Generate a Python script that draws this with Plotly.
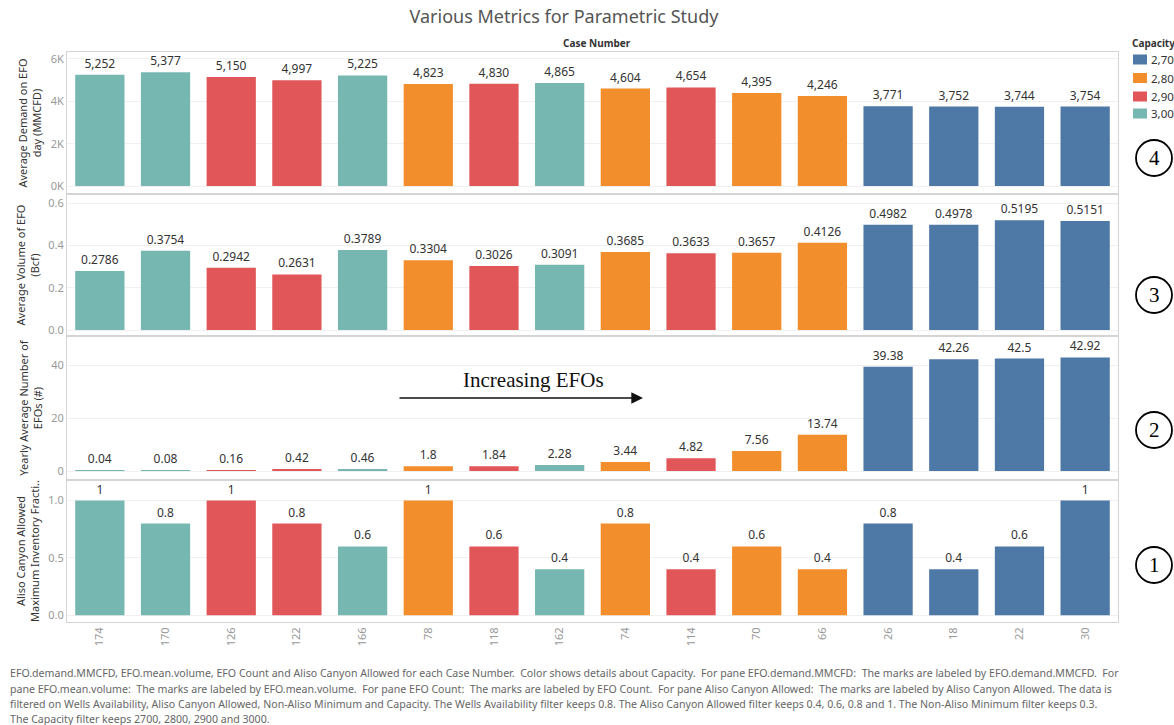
import plotly.graph_objects as go

cases = ["174", "170", "126", "122", "166", "78", "118", "162", "74", "114", "70", "66", "26", "18", "22", "30"]
capacity = [3000, 3000, 2900, 2900, 3000, 2800, 2900, 3000, 2800, 2900, 2800, 2800, 2700, 2700, 2700, 2700]
demand = [5252, 5377, 5150, 4997, 5225, 4823, 4830, 4865, 4604, 4654, 4395, 4246, 3771, 3752, 3744, 3754]
volume = [0.2786, 0.3754, 0.2942, 0.2631, 0.3789, 0.3304, 0.3026, 0.3091, 0.3685, 0.3633, 0.3657, 0.4126,
          0.4982, 0.4978, 0.5195, 0.5151]
efo_count = [0.04, 0.08, 0.16, 0.42, 0.46, 1.8, 1.84, 2.28, 3.44, 4.82, 7.56, 13.74, 39.38, 42.26, 42.5, 42.92]
aliso = [1, 0.8, 1, 0.8, 0.6, 1, 0.6, 0.4, 0.8, 0.4, 0.6, 0.4, 0.8, 0.4, 0.6, 1]

cap_levels = [2700, 2800, 2900, 3000]
cap_labels = ["2,700", "2,800", "2,900", "3,000"]
cap_colors = {2700: "#4E79A7", 2800: "#F28E2B", 2900: "#E15759", 3000: "#76B7B2"}

row_titles = ["Average Demand on EFO<br>day (MMCFD)",
              "Average Volume of EFO<br>(Bcf)",
              "Yearly Average Number of<br>EFOs (#)",
              "Aliso Canyon Allowed<br>Maximum Inventory Fracti.."]

W, H = 1174, 725
ml, mr, mt, mb = 67, 56, 52, 103
pw = W - ml - mr
ph = H - mt - mb
bounds_px = [52, 194, 336, 480, 622]
domains = []
for i in range(4):
    top = bounds_px[i]
    bot = bounds_px[i + 1]
    domains.append([(622 - bot) / ph, (622 - top) / ph])


def px_x(x):
    return (x - ml) / pw


def px_y(y):
    return (622 - y) / ph


rows = [
    (demand, lambda v: f"{v:,}"),
    (volume, lambda v: f"{v:g}"),
    (efo_count, lambda v: f"{v:g}"),
    (aliso, lambda v: f"{v:g}"),
]

fig = go.Figure()
for r, (vals, fmt) in enumerate(rows):
    ax = "" if r == 0 else str(r + 1)
    for ci, cap in enumerate(cap_levels):
        xs = [c for c, k in zip(cases, capacity) if k == cap]
        ys = [v for v, k in zip(vals, capacity) if k == cap]
        fig.add_trace(go.Bar(
            x=xs, y=ys,
            xaxis="x" + ax, yaxis="y" + ax,
            marker=dict(color=cap_colors[cap], line=dict(width=0)),
            name=cap_labels[ci],
            showlegend=False,
            text=[fmt(v) for v in ys],
            textposition="outside",
            textfont=dict(size=12, color="#333333"),
            cliponaxis=False,
            width=0.75,
        ))

yranges = [[-378, 6330], [-0.028, 0.643], [-3.4, 51], [-0.06, 1.18]]
yticks = [
    dict(tickvals=[0, 2000, 4000, 6000], ticktext=["0K", "2K", "4K", "6K"]),
    dict(tickvals=[0, 0.2, 0.4, 0.6], ticktext=["0.0", "0.2", "0.4", "0.6"]),
    dict(tickvals=[0, 20, 40], ticktext=["0", "20", "40"]),
    dict(tickvals=[0, 0.5, 1.0], ticktext=["0.0", "0.5", "1.0"]),
]

layout = dict(
    width=W, height=H,
    margin=dict(l=ml, r=mr, t=mt, b=mb, autoexpand=False),
    paper_bgcolor="white", plot_bgcolor="white",
    barmode="overlay",
    showlegend=False,
    font=dict(family="Noto Sans, Open Sans, sans-serif", color="#333333"),
    title=dict(text="Various Metrics for Parametric Study", x=564 / W, xanchor="center", y=0.985, yanchor="top",
               font=dict(size=18, color="#555555")),
)

for r in range(4):
    ax = "" if r == 0 else str(r + 1)
    xa = dict(
        domain=[0, 1], anchor="y" + ax,
        categoryorder="array", categoryarray=cases,
        showticklabels=(r == 3), tickangle=-90,
        tickfont=dict(size=11, color="#999999"),
        showline=True, mirror=True, linecolor="#d4d4d4", linewidth=1,
        showgrid=False, ticks="",
    )
    if r > 0:
        xa["matches"] = "x"
    layout["xaxis" + ax] = xa
    layout["yaxis" + ax] = dict(
        domain=domains[r], anchor="x" + ax, range=yranges[r],
        **yticks[r],
        tickfont=dict(size=11, color="#999999"),
        showline=True, mirror=True, linecolor="#d4d4d4", linewidth=1,
        showgrid=True, gridcolor="#f0f0f0", zeroline=False, ticks="",
        title=dict(text=row_titles[r], font=dict(size=11, color="#333333"), standoff=6),
    )

fig.update_layout(**layout)

# header
fig.add_annotation(text="<b>Case Number</b>", xref="paper", yref="paper", x=px_x(597), y=px_y(43),
                   showarrow=False, font=dict(size=10, color="#333333"), xanchor="center", yanchor="middle")

# manual legend (cut off at right edge like the reference)
fig.add_annotation(text="<b>Capacity</b>", xref="paper", yref="paper", x=px_x(1130), y=px_y(43),
                   showarrow=False, font=dict(size=10, color="#333333"), xanchor="left", yanchor="middle")
leg_y = [59.5, 78, 96.5, 113.5]
for cap, lab, ly in zip(cap_levels, cap_labels, leg_y):
    fig.add_shape(type="rect", xref="paper", yref="paper",
                  x0=px_x(1133), x1=px_x(1147), y0=px_y(ly + 5), y1=px_y(ly - 5),
                  fillcolor=cap_colors[cap], line=dict(width=0))
    fig.add_annotation(text=lab, xref="paper", yref="paper", x=px_x(1149), y=px_y(ly),
                       showarrow=False, font=dict(size=11.5, color="#333333"), xanchor="left", yanchor="middle")

# increasing arrow annotation
fig.add_annotation(text="Increasing EFOs", xref="paper", yref="paper",
                   x=px_x(533), y=px_y(380), xanchor="center", yanchor="middle",
                   showarrow=False, font=dict(size=21, family="Liberation Serif, serif", color="#111111"))
fig.add_annotation(text="", xref="paper", yref="paper",
                   x=px_x(643), y=px_y(398),
                   ax=-245, ay=0, showarrow=True, arrowhead=2, arrowsize=1.8, arrowwidth=1.3,
                   arrowcolor="#111111")

# circled pane numbers
circ_y = [158, 295, 430, 565]
for n, cy in zip(["4", "3", "2", "1"], circ_y):
    fig.add_shape(type="circle", xref="paper", yref="paper",
                  x0=px_x(1136), x1=px_x(1172),
                  y0=px_y(cy + 18), y1=px_y(cy - 18),
                  line=dict(color="black", width=1.8))
    fig.add_annotation(text=n, xref="paper", yref="paper",
                       x=px_x(1154), y=px_y(cy), xanchor="center", yanchor="middle",
                       showarrow=False, font=dict(size=21, family="Liberation Serif, serif", color="black"))

caption_lines = [
    "EFO.demand.MMCFD, EFO.mean.volume, EFO Count and Aliso Canyon Allowed for each Case Number.  Color shows details about Capacity.  For pane EFO.demand.MMCFD:  The marks are labeled by EFO.demand.MMCFD.  For",
    "pane EFO.mean.volume:  The marks are labeled by EFO.mean.volume.  For pane EFO Count:  The marks are labeled by EFO Count.  For pane Aliso Canyon Allowed:  The marks are labeled by Aliso Canyon Allowed. The data is",
    "filtered on Wells Availability, Aliso Canyon Allowed, Non-Aliso Minimum and Capacity. The Wells Availability filter keeps 0.8. The Aliso Canyon Allowed filter keeps 0.4, 0.6, 0.8 and 1. The Non-Aliso Minimum filter keeps 0.3.",
    "The Capacity filter keeps 2700, 2800, 2900 and 3000.",
]
cap_y = [673, 689, 704, 719]
for line, cy in zip(caption_lines, cap_y):
    fig.add_annotation(text=line, xref="paper", yref="paper",
                       x=px_x(8), y=px_y(cy), xanchor="left", yanchor="middle",
                       align="left", showarrow=False, font=dict(size=10.6, color="#666666"))

fig.write_html("out.html", config={"displayModeBar": False},
               post_script="document.body.style.margin='0';document.body.style.overflow='hidden';")
